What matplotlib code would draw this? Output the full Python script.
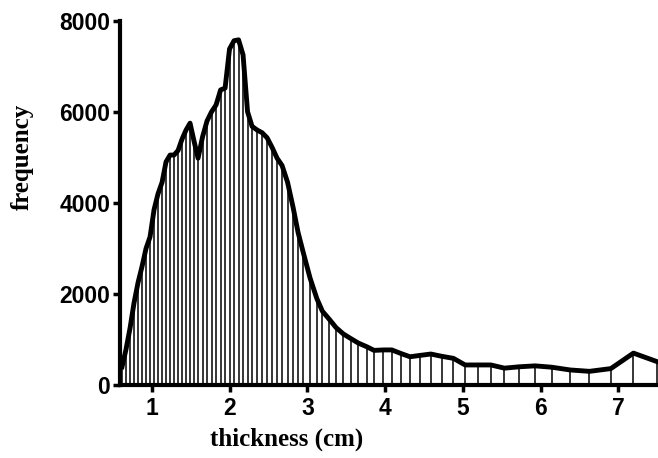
import matplotlib
matplotlib.use("Agg")
import matplotlib.pyplot as plt

# bin positions (cm) - spacing widens toward the tail
thickness = [0.614, 0.665, 0.717, 0.768, 0.820, 0.871, 0.923, 0.974, 1.026, 1.077,
             1.129, 1.180, 1.232, 1.283, 1.335, 1.386, 1.438, 1.489, 1.541, 1.592,
             1.650, 1.708, 1.766, 1.824, 1.882, 1.940, 1.997, 2.055, 2.113, 2.171,
             2.229, 2.287, 2.351, 2.416, 2.480, 2.544, 2.609, 2.673, 2.744, 2.815,
             2.879, 2.947, 3.033, 3.120, 3.192, 3.282, 3.368, 3.462, 3.557, 3.655,
             3.763, 3.857, 3.977, 4.085, 4.205, 4.320, 4.449, 4.587, 4.728, 4.878,
             5.028, 5.192, 5.359, 5.534, 5.727, 5.929, 6.144, 6.380, 6.628, 6.903,
             7.194, 7.503]

frequency = [400, 780, 1250, 1800, 2250, 2600, 3000, 3250, 3850, 4200,
             4450, 4900, 5050, 5050, 5150, 5400, 5600, 5750, 5350, 4980,
             5450, 5800, 6000, 6150, 6480, 6520, 7380, 7560, 7580, 7250,
             6000, 5680, 5600, 5540, 5430, 5220, 4980, 4820, 4450, 3900,
             3350, 2900, 2350, 1900, 1620, 1440, 1260, 1120, 1020, 920,
             840, 760, 770, 770, 690, 620, 650, 680, 630, 585,
             440, 440, 440, 370, 400, 420, 390, 330, 300, 360,
             700, 510]

x_ticks = [1, 2, 3, 4, 5, 6, 7]
y_ticks = [0, 2000, 4000, 6000, 8000]

fig = plt.figure(figsize=(6.58, 4.58), dpi=100)
ax = fig.add_axes([0.1824, 0.1594, 0.8176, 0.7954])

ax.vlines(thickness, 0, frequency, colors="black", linewidth=1.1)
ax.plot(thickness, frequency, color="black", linewidth=3.5, solid_joinstyle="round")

ax.set_xlim(0.588, 7.51)
ax.set_ylim(0, 8000)
ax.set_xticks(x_ticks)
ax.set_yticks(y_ticks)

for side in ["top", "right"]:
    ax.spines[side].set_visible(False)
for side in ["left", "bottom"]:
    ax.spines[side].set_linewidth(3)

ax.tick_params(axis="both", direction="out", length=5, width=2.5)
ax.tick_params(axis="x", pad=4)
ax.tick_params(axis="y", pad=2)
for lab in ax.get_xticklabels() + ax.get_yticklabels():
    lab.set_fontfamily("Liberation Sans")
    lab.set_fontweight("bold")
    lab.set_fontsize(16.5)

ax.set_xlabel("thickness (cm)", fontfamily="Liberation Serif", fontweight="bold", fontsize=18)
ax.set_ylabel("frequency", fontfamily="Liberation Serif", fontweight="bold", fontsize=18)
ax.xaxis.set_label_coords(0.31, -0.118)
ax.yaxis.set_label_coords(-0.16, 0.626)

fig.savefig("out.png", dpi=100)
